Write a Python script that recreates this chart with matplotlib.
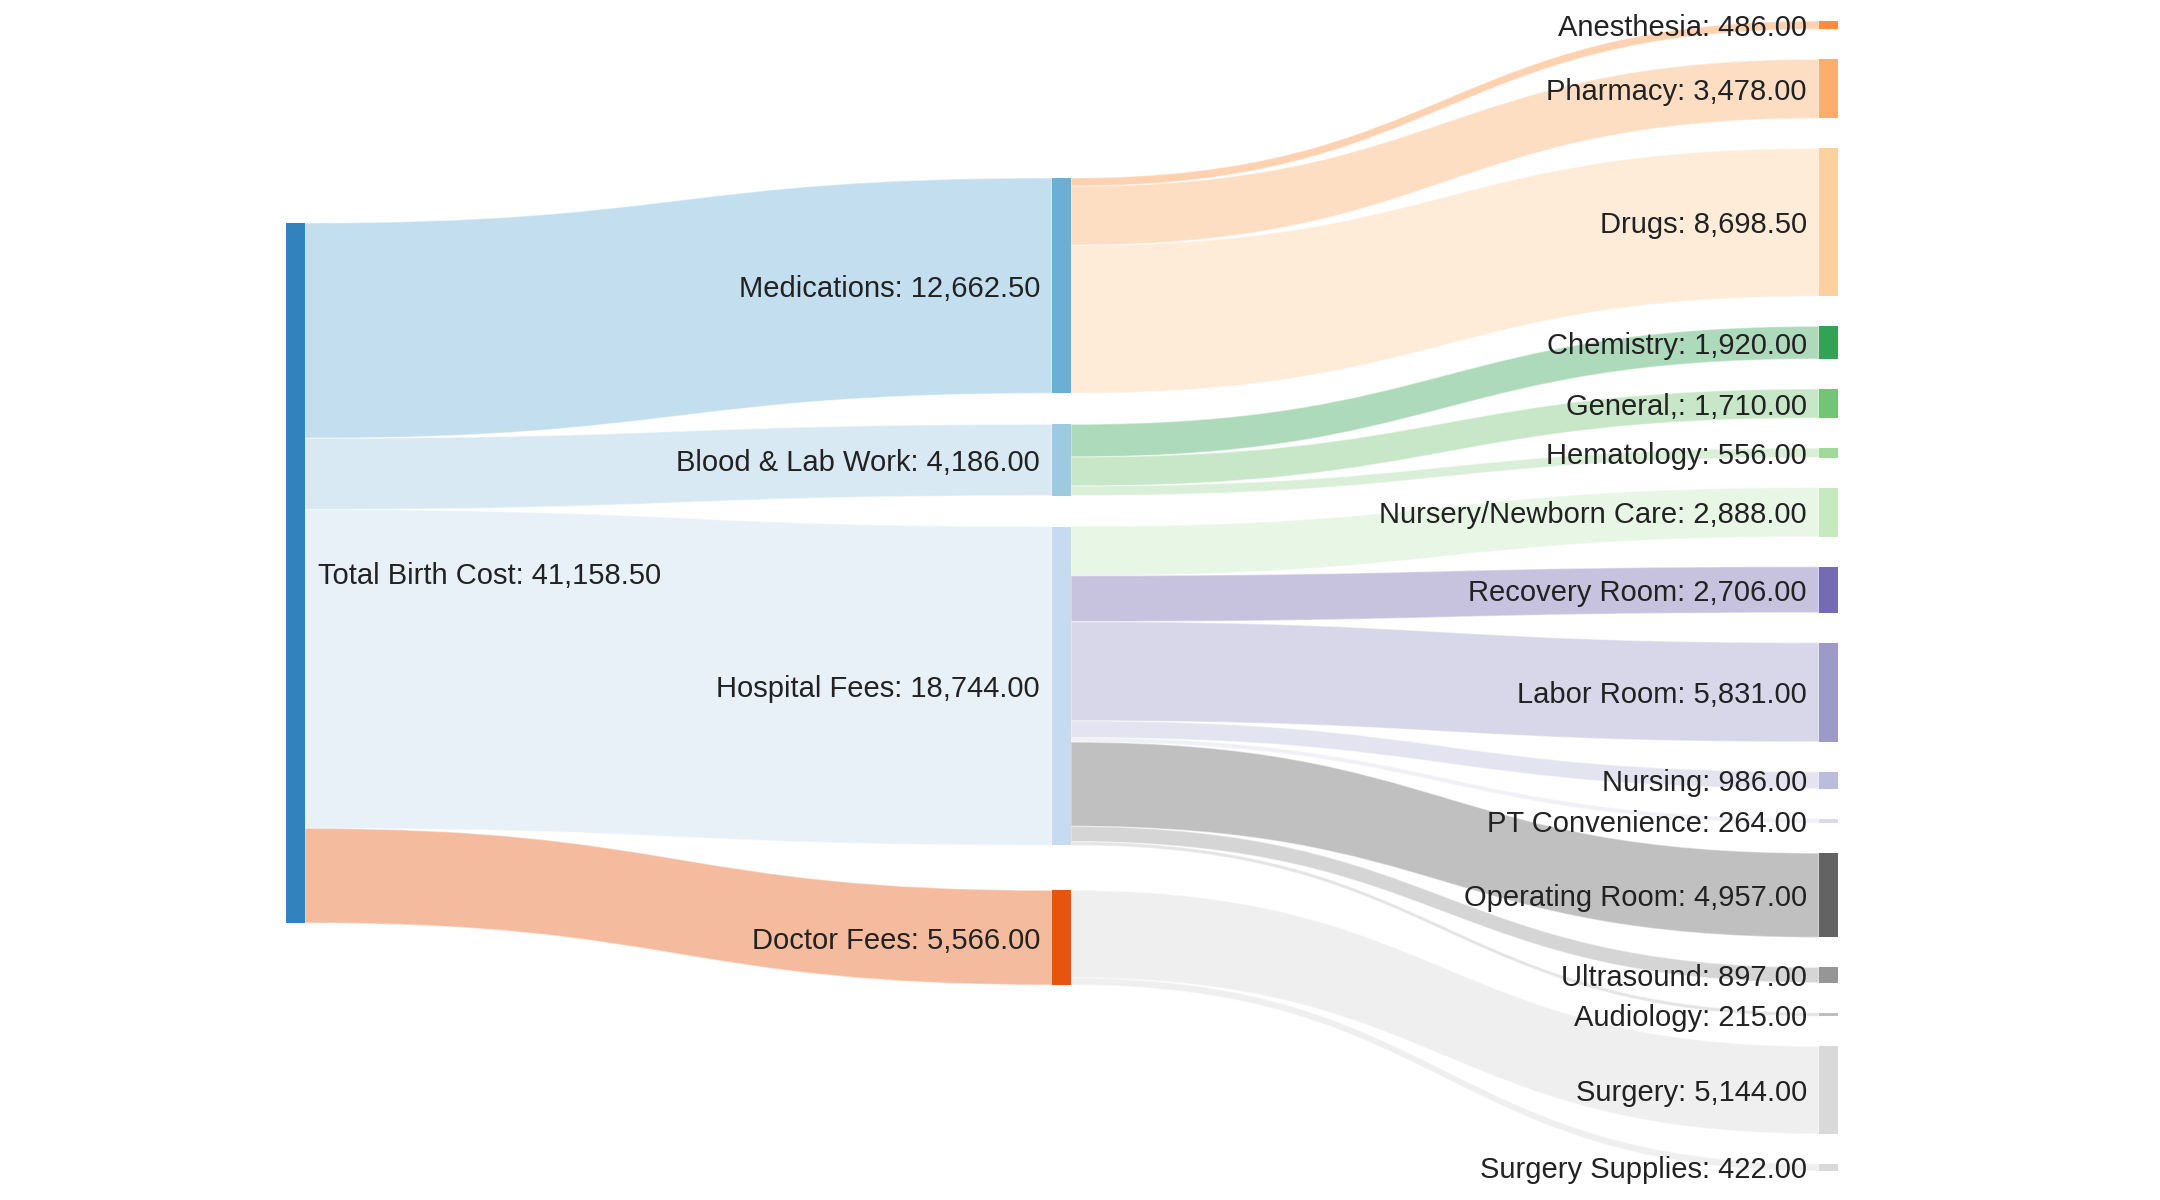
import matplotlib
matplotlib.use('Agg')
import matplotlib.pyplot as plt
from matplotlib.path import Path
from matplotlib.patches import PathPatch, Rectangle

# sankey data: total -> groups -> items
total_name = 'Total Birth Cost'
groups = ['Medications', 'Blood & Lab Work', 'Hospital Fees', 'Doctor Fees']
items = ['Anesthesia', 'Pharmacy', 'Drugs',
         'Chemistry', 'General,', 'Hematology',
         'Nursery/Newborn Care', 'Recovery Room', 'Labor Room', 'Nursing',
         'PT Convenience', 'Operating Room', 'Ultrasound', 'Audiology',
         'Surgery', 'Surgery Supplies']
item_group = ['Medications', 'Medications', 'Medications',
              'Blood & Lab Work', 'Blood & Lab Work', 'Blood & Lab Work',
              'Hospital Fees', 'Hospital Fees', 'Hospital Fees', 'Hospital Fees',
              'Hospital Fees', 'Hospital Fees', 'Hospital Fees', 'Hospital Fees',
              'Doctor Fees', 'Doctor Fees']
item_values = [486.00, 3478.00, 8698.50,
               1920.00, 1710.00, 556.00,
               2888.00, 2706.00, 5831.00, 986.00,
               264.00, 4957.00, 897.00, 215.00,
               5144.00, 422.00]

# d3 category20c, in node order
palette = ['#3182bd', '#6baed6', '#9ecae1', '#c6dbef',
           '#e6550d', '#fd8d3c', '#fdae6b', '#fdd0a2',
           '#31a354', '#74c476', '#a1d99b', '#c7e9c0',
           '#756bb1', '#9e9ac8', '#bcbddc', '#dadaeb',
           '#636363', '#969696', '#bdbdbd', '#d9d9d9', '#d9d9d9']

group_values = [sum(v for v, g in zip(item_values, item_group) if g == grp) for grp in groups]
total_value = sum(group_values)

columns = [[total_name], groups, items]
values = {total_name: total_value}
values.update(dict(zip(groups, group_values)))
values.update(dict(zip(items, item_values)))
all_nodes = [total_name] + groups + items
colors = dict(zip(all_nodes, palette))

links = [(total_name, g, v) for g, v in zip(groups, group_values)]
links += [(g, it, v) for it, g, v in zip(items, item_group, item_values)]

# layout (pixel space)
W, H = 2160, 1200
col_x = [286, 1052, 1819]
col_top = [223, 178, 21]
# space left after each node, per column
col_gaps = [[0], [31, 31, 45], [30] * 15]
node_w = 19
k = 700.0 / total_value

pos = {}
col_of = {}
for ci, names in enumerate(columns):
    y = col_top[ci]
    for i, n in enumerate(names):
        h = values[n] * k
        pos[n] = (y, y + h)
        col_of[n] = ci
        y += h + (col_gaps[ci][i] if i < len(col_gaps[ci]) else 0)

fig = plt.figure(figsize=(W / 200, H / 200), dpi=200)
ax = fig.add_axes([0, 0, 1, 1])
ax.set_xlim(0, W)
ax.set_ylim(H, 0)
ax.axis('off')

# links, coloured like their target node
out_off = {n: pos[n][0] for n in all_nodes}
in_off = {n: pos[n][0] for n in all_nodes}
for src, tgt, v in links:
    h = v * k
    s0 = out_off[src]; s1 = s0 + h
    t0 = in_off[tgt]; t1 = t0 + h
    out_off[src] = s1
    in_off[tgt] = t1
    x0 = col_x[col_of[src]] + node_w
    x1 = col_x[col_of[tgt]]
    xm = (x0 + x1) / 2
    verts = [(x0, s0), (xm, s0), (xm, t0), (x1, t0),
             (x1, t1), (xm, t1), (xm, s1), (x0, s1), (x0, s0)]
    codes = [Path.MOVETO, Path.CURVE4, Path.CURVE4, Path.CURVE4,
             Path.LINETO, Path.CURVE4, Path.CURVE4, Path.CURVE4, Path.CLOSEPOLY]
    ax.add_patch(PathPatch(Path(verts, codes), facecolor=colors[tgt], alpha=0.4,
                           edgecolor='white', linewidth=0.5, zorder=1))

fam, fsize = 'Liberation Sans', 10.5

# nodes + labels
for n in all_nodes:
    y0, y1 = pos[n]
    ci = col_of[n]
    x = col_x[ci]
    ax.add_patch(Rectangle((x, y0), node_w, max(y1 - y0, 2.5), facecolor=colors[n],
                           edgecolor='none', zorder=3))
    label = f'{n}: {values[n]:,.2f}'
    yc = (y0 + y1) / 2
    if ci == 0:
        ax.text(x + node_w + 13, yc, label, ha='left', va='center_baseline',
                fontsize=fsize, family=fam, color='#222222', zorder=4)
    else:
        ax.text(x - 12, yc, label, ha='right', va='center_baseline',
                fontsize=fsize, family=fam, color='#222222', zorder=4)

fig.savefig('out.png', dpi=200, facecolor='white')
